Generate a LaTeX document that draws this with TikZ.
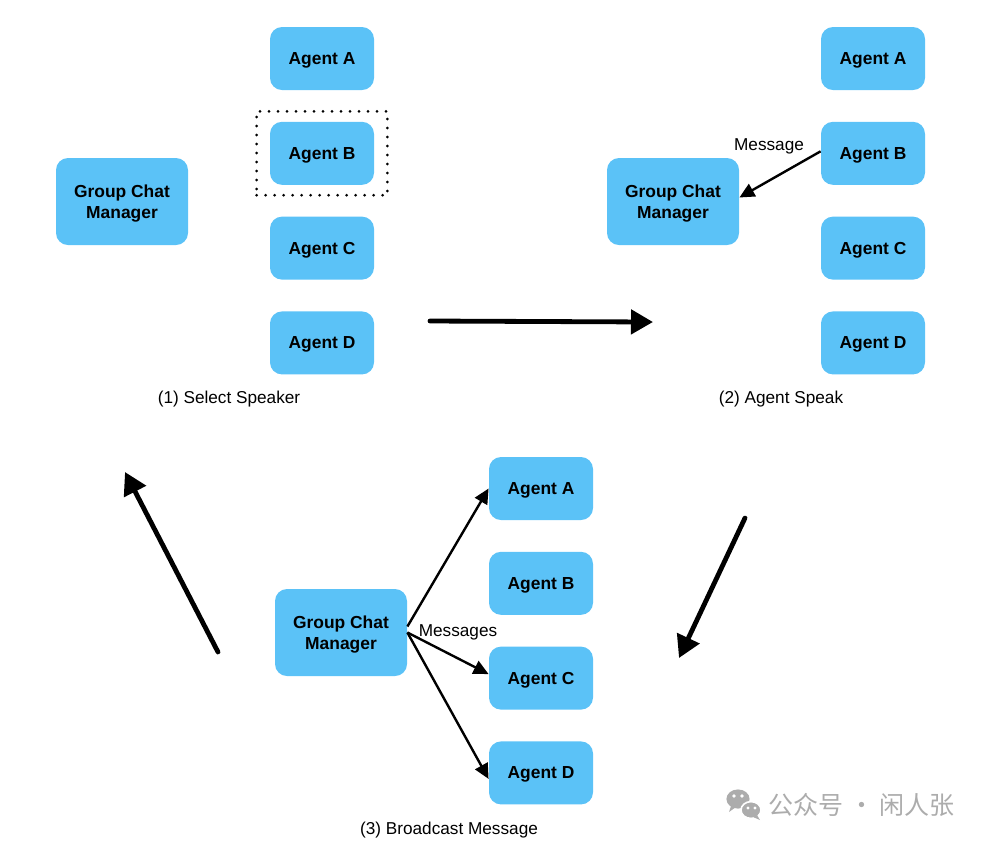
\documentclass[tikz,border=0pt]{standalone}
\usepackage{fontspec}
\setmainfont{Liberation Sans}
\newfontfamily\cjk{Noto Sans CJK SC}
\usetikzlibrary{arrows.meta, positioning, fit}
\definecolor{agentblue}{RGB}{91,194,247}
\definecolor{wmgrey}{RGB}{172,172,172}
\tikzset{%
   % rounded blue box shared by agents and managers
   box/.style={
      rectangle,
      rounded corners=6pt,
      fill=agentblue,
      inner sep=0pt,
      text depth=0pt,
      align=center,
      font=\fontsize{8.7}{10.5}\selectfont\bfseries
   },
   agent/.style={
      box,
      minimum width=52pt,
      minimum height=31.5pt
   },
   gcm/.style={
      box,
      minimum width=66pt,
      minimum height=43.5pt
   },
   caption/.style={
      font=\fontsize{8.6}{10.5}\selectfont
   },
   selbox/.style={
      draw,
      line width=1.5pt,
      line cap=round,
      dash pattern=on 0pt off 4.5pt,
      inner xsep=6.5pt,
      inner ysep=5pt
   },
   msg/.style={
      -{Triangle[length=7.5pt, width=7pt]},
      line width=1.2pt
   },
   bigstep/.style={
      -{Triangle[length=11pt, width=12pt]},
      line width=2.4pt,
      line cap=round
   },
}

\begin{document}
\begin{tikzpicture}[x=0.5pt, y=-0.5pt]
   \useasboundingbox (0,0) rectangle (985,843);

   % (1) select speaker
   \node[gcm] (M1) at (122,201.5) {Group Chat\\Manager};
   \node[agent] (A1) at (322,58.5) {Agent A};
   \node[agent, below=15.5pt of A1] (B1) {Agent B};
   \node[agent, below=15.5pt of B1] (C1) {Agent C};
   \node[agent, below=15.5pt of C1] (D1) {Agent D};
   \node[selbox, fit=(B1)] (S1) {};
   \node[caption] (L1) at (229,399) {(1) Select Speaker};

   % (2) agent speak
   \node[gcm] (M2) at (673,201.5) {Group Chat\\Manager};
   \node[agent] (A2) at (873,58.5) {Agent A};
   \node[agent, below=15.5pt of A2] (B2) {Agent B};
   \node[agent, below=15.5pt of B2] (C2) {Agent C};
   \node[agent, below=15.5pt of C2] (D2) {Agent D};
   \draw[msg] ([yshift=1pt]B2.west) -- ([yshift=2pt]M2.east);
   \node[caption] (T2) at (769,146) {Message};
   \node[caption] (L2) at (781,399) {(2) Agent Speak};

   % (3) broadcast message
   \node[gcm] (M3) at (341,632.5) {Group Chat\\Manager};
   \node[agent] (A3) at (541,488.5) {Agent A};
   \node[agent, below=15.5pt of A3] (B3) {Agent B};
   \node[agent, below=15.5pt of B3] (C3) {Agent C};
   \node[agent, below=15.5pt of C3] (D3) {Agent D};
   \draw[msg] ([yshift=3pt]M3.east) -- (A3.west);
   \draw[msg] (M3.east) -- ([yshift=2pt]C3.west);
   \draw[msg] (M3.east) -- ([yshift=-3pt]D3.west);
   \node[caption] (T3) at (458,632) {Messages};
   \node[caption] (L3) at (449,830) {(3) Broadcast Message};

   % steps between the panels
   \coordinate (s1) at (430,321);
   \coordinate (e1) at (653,322);
   \coordinate (s2) at (218,652);
   \coordinate (e2) at (125,472);
   \coordinate (s3) at (745,518);
   \coordinate (e3) at (679,658);
   \draw[bigstep] (s1) -- (e1);
   \draw[bigstep] (s2) -- (e2);
   \draw[bigstep] (s3) -- (e3);

   % watermark
   \fill[wmgrey] (738,799) ellipse [x radius=5.8pt, y radius=4.8pt];
   \fill[wmgrey] (731,806) -- (729,812) -- (736,807) -- cycle;
   \fill[wmgrey, draw=white, line width=0.8pt] (751,810) ellipse [x radius=5pt, y radius=4.2pt];
   \fill[wmgrey] (757,815) -- (760,820) -- (753,817) -- cycle;
   \fill[white] (734,796) circle [radius=0.9pt] (742,796) circle [radius=0.9pt]
                (748,808) circle [radius=0.8pt] (755,808) circle [radius=0.8pt];
   \node[anchor=west, inner sep=0pt, text=wmgrey, font=\cjk\fontsize{12.5}{14}\selectfont] (W) at (768,805) {公众号 · 闲人张};
\end{tikzpicture}
\end{document}
